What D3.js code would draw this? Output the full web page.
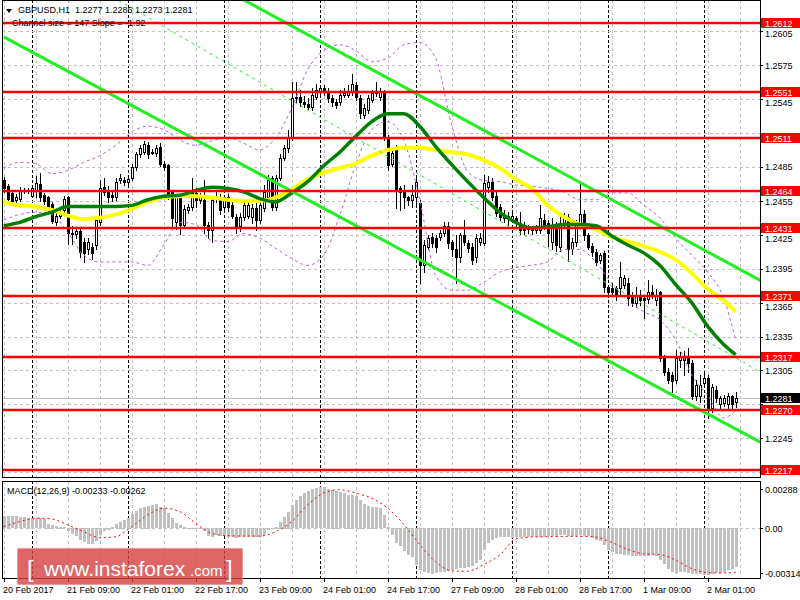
<!DOCTYPE html>
<html><head><meta charset="utf-8">
<script src="https://cdnjs.cloudflare.com/ajax/libs/d3/7.8.5/d3.min.js"></script>
<style>body{margin:0;background:#fff}svg{display:block}text{font-family:"Liberation Sans",Arial,sans-serif;}</style>
</head><body><svg id="c" width="800" height="600"></svg>
<script>
// ---------------- DATA ----------------
const symbolTitle = "GBPUSD,H1  1.2277 1.2286 1.2273 1.2281";
const channelTitle = "Channel size = 147 Slope = -1.92";
const macdTitle = "MACD(12,26,9) -0.00233 -0.00262";

const opens = [1.2473,1.2468,1.2462,1.2456,1.2457,1.2464,1.2465,1.2459,1.2465,1.2470,
1.2460,1.2458,1.2452,1.2436,1.2442,1.2447,1.2458,1.2427,1.2426,1.2428,
1.2419,1.2412,1.2414,1.2416,1.2436,1.2467,1.2465,1.2460,1.2458,1.2473,
1.2473,1.2472,1.2475,1.2485,1.2496,1.2498,1.2504,1.2497,1.2497,1.2503,
1.2488,1.2487,1.2463,1.2436,1.2458,1.2434,1.2447,1.2450,1.2462,1.2456,
1.2456,1.2434,1.2429,1.2457,1.2458,1.2450,1.2458,1.2451,1.2441,1.2433,
1.2441,1.2442,1.2441,1.2449,1.2438,1.2449,1.2458,1.2475,1.2450,1.2475,
1.2493,1.2502,1.2511,1.2546,1.2547,1.2542,1.2541,1.2538,1.2547,1.2551,
1.2555,1.2552,1.2546,1.2542,1.2542,1.2549,1.2549,1.2551,1.2557,1.2546,
1.2531,1.2535,1.2544,1.2550,1.2547,1.2551,1.2511,1.2488,1.2503,1.2466,
1.2465,1.2458,1.2456,1.2458,1.2453,1.2398,1.2414,1.2423,1.2422,1.2423,
1.2427,1.2433,1.2419,1.2412,1.2405,1.2425,1.2418,1.2414,1.2405,1.2419,
1.2418,1.2467,1.2472,1.2459,1.2450,1.2440,1.2442,1.2438,1.2440,1.2435,
1.2434,1.2431,1.2431,1.2429,1.2429,1.2438,1.2435,1.2419,1.2434,1.2414,
1.2435,1.2441,1.2412,1.2419,1.2434,1.2443,1.2425,1.2415,1.2410,1.2403,
1.2409,1.2379,1.2378,1.2378,1.2378,1.2381,1.2382,1.2372,1.2365,1.2372,
1.2369,1.2368,1.2374,1.2367,1.2374,1.2316,1.2304,1.2301,1.2297,1.2314,
1.2314,1.2317,1.2312,1.2282,1.2282,1.2294,1.2298,1.2272,1.2288,1.2275,
1.2276,1.2275,1.2282,1.2277];
const highs = [1.2476,1.2470,1.2465,1.2461,1.2467,1.2466,1.2466,1.2469,1.2477,1.2480,
1.2462,1.2459,1.2454,1.2444,1.2448,1.2459,1.2459,1.2433,1.2431,1.2431,
1.2422,1.2422,1.2418,1.2442,1.2473,1.2475,1.2468,1.2464,1.2475,1.2479,
1.2476,1.2477,1.2488,1.2498,1.2504,1.2508,1.2507,1.2501,1.2504,1.2506,
1.2490,1.2488,1.2465,1.2461,1.2459,1.2451,1.2452,1.2475,1.2466,1.2462,
1.2473,1.2436,1.2459,1.2463,1.2461,1.2460,1.2461,1.2455,1.2443,1.2444,
1.2454,1.2456,1.2452,1.2453,1.2456,1.2469,1.2478,1.2477,1.2478,1.2496,
1.2504,1.2518,1.2560,1.2560,1.2553,1.2548,1.2546,1.2555,1.2558,1.2557,
1.2557,1.2555,1.2549,1.2545,1.2553,1.2555,1.2557,1.2567,1.2560,1.2549,
1.2541,1.2549,1.2553,1.2560,1.2555,1.2553,1.2513,1.2502,1.2504,1.2468,
1.2469,1.2459,1.2469,1.2475,1.2456,1.2420,1.2425,1.2427,1.2425,1.2429,
1.2436,1.2436,1.2420,1.2425,1.2427,1.2438,1.2420,1.2418,1.2426,1.2427,
1.2478,1.2477,1.2475,1.2465,1.2452,1.2447,1.2445,1.2444,1.2442,1.2445,
1.2436,1.2434,1.2433,1.2434,1.2451,1.2443,1.2438,1.2440,1.2436,1.2442,
1.2444,1.2443,1.2422,1.2438,1.2471,1.2447,1.2427,1.2418,1.2412,1.2409,
1.2411,1.2381,1.2382,1.2380,1.2401,1.2389,1.2387,1.2374,1.2379,1.2376,
1.2371,1.2385,1.2381,1.2377,1.2375,1.2319,1.2307,1.2304,1.2323,1.2321,
1.2322,1.2325,1.2314,1.2297,1.2301,1.2303,1.2301,1.2293,1.2291,1.2282,
1.2283,1.2285,1.2283,1.2286];
const lows = [1.2463,1.2453,1.2452,1.2454,1.2455,1.2462,1.2462,1.2458,1.2458,1.2455,
1.2452,1.2445,1.2435,1.2434,1.2440,1.2445,1.2417,1.2417,1.2422,1.2405,
1.2401,1.2408,1.2404,1.2412,1.2434,1.2460,1.2454,1.2455,1.2456,1.2471,
1.2469,1.2469,1.2473,1.2482,1.2494,1.2496,1.2493,1.2496,1.2495,1.2486,
1.2482,1.2457,1.2433,1.2430,1.2426,1.2431,1.2444,1.2447,1.2450,1.2453,
1.2427,1.2422,1.2419,1.2454,1.2443,1.2445,1.2446,1.2440,1.2427,1.2428,
1.2438,1.2440,1.2435,1.2429,1.2435,1.2446,1.2456,1.2447,1.2447,1.2473,
1.2491,1.2498,1.2509,1.2542,1.2539,1.2538,1.2535,1.2535,1.2545,1.2549,
1.2549,1.2542,1.2539,1.2537,1.2540,1.2547,1.2547,1.2549,1.2544,1.2528,
1.2528,1.2533,1.2542,1.2548,1.2544,1.2509,1.2482,1.2486,1.2449,1.2447,
1.2449,1.2451,1.2450,1.2450,1.2382,1.2392,1.2412,1.2414,1.2410,1.2420,
1.2424,1.2413,1.2406,1.2382,1.2401,1.2416,1.2410,1.2399,1.2401,1.2416,
1.2416,1.2463,1.2456,1.2442,1.2438,1.2436,1.2434,1.2436,1.2432,1.2426,
1.2426,1.2427,1.2426,1.2427,1.2427,1.2430,1.2415,1.2412,1.2411,1.2411,
1.2431,1.2402,1.2408,1.2415,1.2431,1.2420,1.2412,1.2406,1.2398,1.2400,
1.2374,1.2370,1.2371,1.2367,1.2372,1.2378,1.2363,1.2362,1.2361,1.2363,
1.2351,1.2365,1.2369,1.2363,1.2313,1.2301,1.2294,1.2286,1.2294,1.2308,
1.2301,1.2304,1.2280,1.2279,1.2277,1.2291,1.2263,1.2268,1.2277,1.2272,
1.2274,1.2272,1.2272,1.2273];
const closes = [1.2466,1.2457,1.2455,1.2458,1.2465,1.2465,1.2464,1.2466,1.2471,1.2458,
1.2455,1.2450,1.2437,1.2442,1.2445,1.2457,1.2427,1.2426,1.2428,1.2410,
1.2409,1.2419,1.2409,1.2438,1.2466,1.2463,1.2458,1.2458,1.2472,1.2475,
1.2472,1.2474,1.2485,1.2496,1.2502,1.2505,1.2496,1.2498,1.2502,1.2488,
1.2485,1.2460,1.2440,1.2458,1.2434,1.2448,1.2450,1.2462,1.2456,1.2458,
1.2434,1.2429,1.2456,1.2458,1.2447,1.2458,1.2450,1.2442,1.2432,1.2441,
1.2451,1.2451,1.2449,1.2438,1.2451,1.2463,1.2473,1.2450,1.2475,1.2493,
1.2502,1.2511,1.2546,1.2547,1.2542,1.2541,1.2538,1.2549,1.2553,1.2555,
1.2552,1.2546,1.2542,1.2540,1.2549,1.2550,1.2551,1.2558,1.2547,1.2533,
1.2537,1.2546,1.2550,1.2551,1.2551,1.2511,1.2487,1.2497,1.2465,1.2463,
1.2458,1.2456,1.2460,1.2472,1.2398,1.2416,1.2422,1.2418,1.2414,1.2427,
1.2433,1.2418,1.2412,1.2405,1.2425,1.2419,1.2413,1.2403,1.2422,1.2422,
1.2471,1.2472,1.2458,1.2444,1.2441,1.2442,1.2440,1.2442,1.2436,1.2429,
1.2429,1.2430,1.2429,1.2431,1.2440,1.2434,1.2427,1.2434,1.2416,1.2434,
1.2441,1.2412,1.2419,1.2434,1.2443,1.2425,1.2414,1.2410,1.2401,1.2407,
1.2379,1.2374,1.2374,1.2372,1.2388,1.2387,1.2369,1.2365,1.2372,1.2367,
1.2367,1.2374,1.2372,1.2372,1.2316,1.2304,1.2297,1.2296,1.2316,1.2317,
1.2317,1.2312,1.2282,1.2292,1.2292,1.2298,1.2270,1.2290,1.2281,1.2281,
1.2281,1.2282,1.2275,1.2281];

// indicator values read every 4 bars (bars 0,4,...,180 and 183)
const yellowMA = [1.2454,1.2451,1.2450,1.2447,1.2442,1.2439,1.2440,1.2443,1.2448,1.2454,1.2458,1.2459,1.2459,1.2458,1.2456,1.2455,1.2455,1.2458,1.2465,1.2474,1.2480,1.2484,1.2488,1.2495,1.2500,1.2502,1.2502,1.2500,1.2498,1.2496,1.2491,1.2484,1.2474,1.2466,1.2451,1.2441,1.2434,1.2430,1.2423,1.2419,1.2415,1.2410,1.2403,1.2391,1.2377,1.2367,1.2357];
const greenMA = [1.2433,1.2436,1.2441,1.2445,1.2450,1.2450,1.2450,1.2450,1.2451,1.2456,1.2459,1.2460,1.2464,1.2467,1.2466,1.2463,1.2457,1.2454,1.2462,1.2472,1.2486,1.2498,1.2512,1.2525,1.2532,1.2532,1.2521,1.2503,1.2487,1.2472,1.2458,1.2445,1.2436,1.2431,1.2432,1.2434,1.2434,1.2433,1.2424,1.2416,1.2409,1.2398,1.2381,1.2365,1.2344,1.2328,1.2319];
const bandUpper = [1.2484,1.2489,1.2488,1.2479,1.2482,1.2489,1.2495,1.2504,1.2516,1.2521,1.2518,1.2509,1.2504,1.2508,1.2511,1.2506,1.2500,1.2511,1.2537,1.2571,1.2588,1.2593,1.2588,1.2578,1.2581,1.2593,1.2595,1.2581,1.2522,1.2481,1.2473,1.2472,1.2469,1.2468,1.2466,1.2463,1.2456,1.2456,1.2462,1.2462,1.2451,1.2440,1.2422,1.2407,1.2392,1.2369,1.2332];
const bandLower = [1.2438,1.2443,1.2445,1.2443,1.2427,1.2407,1.2401,1.2401,1.2401,1.2398,1.2416,1.2436,1.2434,1.2420,1.2419,1.2426,1.2422,1.2413,1.2404,1.2398,1.2407,1.2442,1.2487,1.2518,1.2525,1.2509,1.2456,1.2389,1.2376,1.2376,1.2383,1.2392,1.2396,1.2398,1.2401,1.2412,1.2412,1.2401,1.2382,1.2367,1.2357,1.2350,1.2332,1.2301,1.2283,1.2263,1.2270];
const macdSignal = [0.00010,0.00040,0.00060,0.00056,0.00020,-0.00020,-0.00056,-0.00050,0.00010,0.00080,0.00120,0.00100,0.00030,-0.00030,-0.00044,-0.00046,-0.00046,-0.00020,0.00040,0.00140,0.00210,0.00230,0.00210,0.00180,0.00120,0.00024,-0.00096,-0.00200,-0.00254,-0.00256,-0.00216,-0.00160,-0.00064,-0.00052,-0.00050,-0.00048,-0.00048,-0.00052,-0.00084,-0.00126,-0.00152,-0.00156,-0.00190,-0.00240,-0.00264,-0.00266,-0.00262];

const macdHist = [0.00074,0.00075,0.00074,0.00072,0.00068,0.00066,0.00064,0.00064,0.00062,0.00060,
0.00056,0.00028,0.00022,0.00012,0.00010,0.00008,-0.00020,-0.00036,-0.00050,-0.00070,
-0.00086,-0.00094,-0.00096,-0.00080,-0.00040,-0.00020,-0.00010,0.00010,0.00024,0.00040,
0.00050,0.00064,0.00084,0.00104,0.00120,0.00130,0.00136,0.00140,0.00144,0.00130,
0.00120,0.00090,0.00060,0.00030,0.00020,0.00010,0.00004,0.00004,0.00004,0.00002,
-0.00020,-0.00050,-0.00056,-0.00044,-0.00046,-0.00050,-0.00056,-0.00056,-0.00058,-0.00056,
-0.00054,-0.00052,-0.00054,-0.00056,-0.00052,-0.00040,-0.00010,0.00000,0.00010,0.00040,
0.00070,0.00100,0.00140,0.00170,0.00190,0.00210,0.00224,0.00234,0.00240,0.00244,
0.00244,0.00236,0.00230,0.00224,0.00216,0.00210,0.00200,0.00200,0.00190,0.00170,
0.00144,0.00136,0.00130,0.00130,0.00120,0.00080,0.00010,-0.00040,-0.00090,-0.00110,
-0.00140,-0.00160,-0.00170,-0.00220,-0.00250,-0.00264,-0.00270,-0.00272,-0.00270,-0.00264,
-0.00260,-0.00256,-0.00250,-0.00246,-0.00240,-0.00236,-0.00230,-0.00224,-0.00210,-0.00190,
-0.00130,-0.00090,-0.00070,-0.00060,-0.00056,-0.00056,-0.00056,-0.00060,-0.00056,-0.00056,
-0.00056,-0.00056,-0.00056,-0.00056,-0.00054,-0.00054,-0.00050,-0.00046,-0.00046,-0.00040,
-0.00040,-0.00050,-0.00050,-0.00046,-0.00044,-0.00046,-0.00050,-0.00060,-0.00070,-0.00080,
-0.00104,-0.00130,-0.00144,-0.00152,-0.00156,-0.00160,-0.00160,-0.00164,-0.00164,-0.00166,
-0.00166,-0.00166,-0.00160,-0.00166,-0.00190,-0.00216,-0.00244,-0.00264,-0.00270,-0.00264,
-0.00264,-0.00266,-0.00272,-0.00276,-0.00276,-0.00278,-0.00280,-0.00276,-0.00270,-0.00266,
-0.00260,-0.00252,-0.00246,-0.00233];

const channelBars = [0,190];
const channelUpper = [1.2748,1.2383];
const channelLower = [1.2600,1.2240];
const channelMid = [1.2691,1.2302];

const levels = [1.2612,1.2551,1.2511,1.2464,1.2431,1.2371,1.2317,1.2270,1.2217];
const currentPrice = 1.2281;
const priceTicks = [1.2605,1.2575,1.2545,1.2515,1.2485,1.2455,1.2425,1.2395,1.2365,1.2335,1.2305,1.2275,1.2245,1.2215];
const macdTicks = [0.00288,0,-0.00314];
const macdTickLabels = ["0.00288","0.00","-0.00314"];
const xLabelBars = [0,16,32,48,64,80,96,112,128,144,160,176];
const xLabels = ["20 Feb 2017","21 Feb 09:00","22 Feb 01:00","22 Feb 17:00","23 Feb 09:00","24 Feb 01:00","24 Feb 17:00","27 Feb 09:00","28 Feb 01:00","28 Feb 17:00","1 Mar 09:00","2 Mar 01:00"];
const daySepBars = [7,31,55,79,103,127,151,175];

// ---------------- DRAW ----------------
const W=800,H=600, PL=2, PR=760, MB=477, ST=481, SB=578;
const svg=d3.select('#c');
svg.append('rect').attr('width',W).attr('height',H).attr('fill','#fff');
const nBars = closes.length;
const x=d3.scaleLinear().domain([0,183]).range([3.7,735.7]);
const y=d3.scaleLinear().domain([1.2217,1.2612]).range([470,23.3]);
const ym=d3.scaleLinear().domain([-0.00314,0.00288]).range([581,480]);
const maIdx = d3.range(0,181,4).concat([183]);
const px = i => Math.round(x(i));

const defs=svg.append('defs');
defs.append('clipPath').attr('id','cm').append('rect').attr('x',PL).attr('y',0).attr('width',PR-PL).attr('height',MB);
defs.append('clipPath').attr('id','cs').append('rect').attr('x',PL).attr('y',ST).attr('width',PR-PL).attr('height',SB-ST);

const gm=svg.append('g').attr('clip-path','url(#cm)');
const gs=svg.append('g').attr('clip-path','url(#cs)');

// grids
const gridBars=d3.range(0,185,8);
[gm,gs].forEach((g,k)=>{
  const y0 = k===0?0:ST, y1 = k===0?MB:SB;
  g.selectAll('line.vg').data(gridBars).join('line').attr('class','vg')
    .attr('x1',d=>px(d)+0.5).attr('x2',d=>px(d)+0.5).attr('y1',y0).attr('y2',y1)
    .attr('stroke','#c0c0c0').attr('stroke-dasharray','3,3').attr('shape-rendering','crispEdges');
  g.selectAll('line.ds').data(daySepBars).join('line').attr('class','ds')
    .attr('x1',d=>px(d)+0.5).attr('x2',d=>px(d)+0.5).attr('y1',y0).attr('y2',y1)
    .attr('stroke','#000').attr('stroke-dasharray','3,2').attr('shape-rendering','crispEdges');
});
gm.selectAll('line.hg').data(priceTicks).join('line').attr('class','hg')
  .attr('x1',PL).attr('x2',PR).attr('y1',d=>Math.round(y(d))+0.5).attr('y2',d=>Math.round(y(d))+0.5)
  .attr('stroke','#c0c0c0').attr('stroke-dasharray','3,3').attr('shape-rendering','crispEdges');
gs.append('line').attr('x1',PL).attr('x2',PR).attr('y1',Math.round(ym(0))+0.5).attr('y2',Math.round(ym(0))+0.5)
  .attr('stroke','#c0c0c0').attr('stroke-dasharray','3,3');

// current price line
gm.append('line').attr('x1',PL).attr('x2',PR).attr('y1',Math.round(y(currentPrice))+0.5).attr('y2',Math.round(y(currentPrice))+0.5)
  .attr('stroke','#c0c0c0').attr('shape-rendering','crispEdges');

// candles
const bars=d3.range(nBars);
const cg=gm.append('g').attr('shape-rendering','crispEdges');
cg.selectAll('line.w').data(bars).join('line').attr('class','w')
  .attr('x1',i=>px(i)+0.5).attr('x2',i=>px(i)+0.5)
  .attr('y1',i=>Math.round(y(highs[i]))).attr('y2',i=>Math.round(y(lows[i]))+1)
  .attr('stroke','#000');
cg.selectAll('rect.b').data(bars).join('rect').attr('class','b')
  .attr('x',i=>px(i)-0.5)
  .attr('y',i=>Math.round(y(Math.max(opens[i],closes[i])))+0.5)
  .attr('width',2)
  .attr('height',i=>Math.max(0,Math.round(y(Math.min(opens[i],closes[i])))-Math.round(y(Math.max(opens[i],closes[i])))))
  .attr('fill',i=>closes[i]>=opens[i]?'#fff':'#000').attr('stroke','#000');

// bands
const lineGen = arr => d3.line().x((d,k)=>x(maIdx[k])).y(d=>y(d)).curve(d3.curveMonotoneX)(arr);
[bandUpper,bandLower].forEach(b=>{
  gm.append('path').attr('d',lineGen(b)).attr('fill','none').attr('stroke','#b463dc').attr('stroke-width',1).attr('stroke-dasharray','3,3');
});
// MAs
gm.append('path').attr('d',lineGen(yellowMA)).attr('fill','none').attr('stroke','#ffff00').attr('stroke-width',4);
gm.append('path').attr('d',lineGen(greenMA)).attr('fill','none').attr('stroke','#008000').attr('stroke-width',3.5);

// channel
const chLine = arr => d3.line().x((d,k)=>x(channelBars[k])).y(d=>y(d))(arr);
gm.append('path').attr('d',chLine(channelUpper)).attr('stroke','#22ee22').attr('stroke-width',3).attr('fill','none');
gm.append('path').attr('d',chLine(channelLower)).attr('stroke','#22ee22').attr('stroke-width',3).attr('fill','none');
gm.append('path').attr('d',chLine(channelMid)).attr('stroke','#22ee22').attr('stroke-width',1).attr('stroke-dasharray','3,4').attr('fill','none');

// red levels
gm.selectAll('line.lv').data(levels).join('line').attr('class','lv')
  .attr('x1',PL).attr('x2',PR).attr('y1',d=>Math.round(y(d))).attr('y2',d=>Math.round(y(d)))
  .attr('stroke','#ff0000').attr('stroke-width',2.5);

// MACD histogram
gs.selectAll('rect.h').data(bars).join('rect').attr('class','h')
  .attr('x',i=>px(i)-1).attr('width',3)
  .attr('y',i=>Math.round(Math.min(ym(0),ym(macdHist[i]))))
  .attr('height',i=>Math.max(1,Math.round(Math.abs(ym(macdHist[i])-ym(0)))))
  .attr('fill','#c0c0c0').attr('shape-rendering','crispEdges');
gs.append('path').attr('d',d3.line().x((d,k)=>x(maIdx[k])).y(d=>ym(d)).curve(d3.curveMonotoneX)(macdSignal))
  .attr('fill','none').attr('stroke','#ff0000').attr('stroke-width',1).attr('stroke-dasharray','2,3');

// frames
const fr=svg.append('g').attr('fill','none').attr('stroke','#000').attr('shape-rendering','crispEdges');
fr.append('rect').attr('x',PL+0.5).attr('y',0.5).attr('width',PR-PL).attr('height',MB);
fr.append('rect').attr('x',PL+0.5).attr('y',ST+0.5).attr('width',PR-PL).attr('height',SB-ST);

// right axis labels: tick labels give way to the level flags (hidden when covered)
const flagCenters = levels.concat([currentPrice]).map(v=>y(v));
const tickPos = priceTicks.map(t=>{
  let p=y(t), hide=false;
  flagCenters.forEach(c=>{
    const d=p-c;
    if(Math.abs(d)<6.5) hide=true;
    else if(Math.abs(d)<10.5) p = c + Math.sign(d)*10.5;
  });
  return {t,p,hide};
});
const ax=svg.append('g').attr('font-size',9).attr('fill','#000');
ax.selectAll('line.t').data(priceTicks).join('line').attr('class','t')
  .attr('x1',PR).attr('x2',PR+3).attr('y1',d=>Math.round(y(d))+0.5).attr('y2',d=>Math.round(y(d))+0.5)
  .attr('stroke','#000').attr('shape-rendering','crispEdges');
ax.selectAll('text.t').data(tickPos.filter(d=>!d.hide)).join('text').attr('class','t')
  .attr('x',PR+5).attr('y',d=>d.p+3.5).text(d=>d.t.toFixed(4));

ax.selectAll('rect.lv').data(levels).join('rect').attr('class','lv')
  .attr('x',PR+1).attr('y',d=>Math.round(y(d))-5).attr('width',40).attr('height',10).attr('fill','#ff0000');
ax.selectAll('text.lv').data(levels).join('text').attr('class','lv')
  .attr('x',PR+5).attr('y',d=>Math.round(y(d))+3.5).attr('fill','#fff').text(d=>d.toFixed(4));
ax.append('rect').attr('x',PR+1).attr('y',Math.round(y(currentPrice))-5).attr('width',40).attr('height',10).attr('fill','#000');
ax.append('text').attr('x',PR+5).attr('y',Math.round(y(currentPrice))+3.5).attr('fill','#fff').text(currentPrice.toFixed(4));

// macd labels
const mOff=[9,0,-8];
ax.selectAll('line.m').data(macdTicks).join('line').attr('class','m')
  .attr('x1',PR).attr('x2',PR+3).attr('y1',(d,k)=>Math.round(ym(d)+mOff[k])+0.5).attr('y2',(d,k)=>Math.round(ym(d)+mOff[k])+0.5)
  .attr('stroke','#000').attr('shape-rendering','crispEdges');
ax.selectAll('text.m').data(macdTicks).join('text').attr('class','m')
  .attr('x',PR+5).attr('y',(d,k)=>ym(d)+mOff[k]+3.5).text((d,k)=>macdTickLabels[k]);

// x labels
ax.selectAll('line.x').data(xLabelBars).join('line').attr('class','x')
  .attr('x1',i=>px(i)+0.5).attr('x2',i=>px(i)+0.5).attr('y1',SB).attr('y2',SB+4)
  .attr('stroke','#000').attr('shape-rendering','crispEdges');
ax.selectAll('text.x').data(xLabelBars).join('text').attr('class','x')
  .attr('x',i=>px(i)-1).attr('y',593).text((i,k)=>xLabels[k]);

// headers
svg.append('path').attr('d','M6,9 L12,9 L9,13 Z').attr('fill','#000');
svg.append('text').attr('x',18).attr('y',13).attr('font-size',9).style('white-space','pre').text(symbolTitle);
svg.append('text').attr('x',12).attr('y',26).attr('font-size',9).text(channelTitle);
svg.append('text').attr('x',7).attr('y',494).attr('font-size',9).text(macdTitle);

// watermark
const wm=svg.append('g');
wm.append('rect').attr('x',17).attr('y',548).attr('width',226).attr('height',37).attr('rx',2)
  .attr('fill','rgb(214,64,64)').attr('opacity',0.8);
wm.append('rect').attr('x',17.5).attr('y',548.5).attr('width',225).attr('height',36).attr('rx',2)
  .attr('fill','none').attr('stroke','rgba(255,255,255,0.35)');
const wt=wm.append('g').attr('fill','#fff');
wt.append('text').attr('x',27).attr('y',577).attr('font-size',24).text('[');
wt.append('text').attr('x',44).attr('y',576).attr('font-size',21).text('www.instaforex');
wt.append('text').attr('x',190).attr('y',576).attr('font-size',15).text('.com');
wt.append('text').attr('x',226).attr('y',577).attr('font-size',24).text(']');
</script></body></html>
